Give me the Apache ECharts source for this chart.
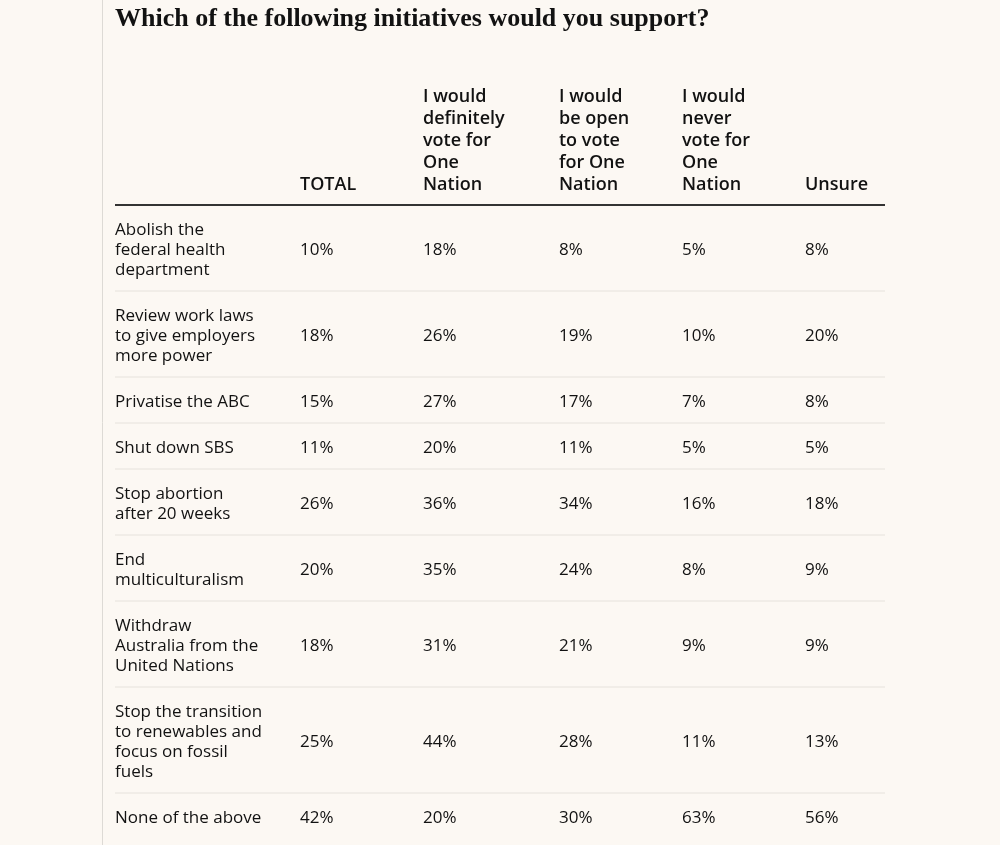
<!DOCTYPE html>
<html>
<head>
<meta charset="utf-8">
<script src="https://cdn.jsdelivr.net/npm/echarts@6/dist/echarts.min.js"></script>
<style>
html, body { margin: 0; padding: 0; background: #fcf8f3; }
#main { width: 1000px; height: 845px; }
</style>
</head>
<body>
<div id="main"></div>
<script>
// table content
var initiatives = [
    'Abolish the\nfederal health\ndepartment',
    'Review work laws\nto give employers\nmore power',
    'Privatise the ABC',
    'Shut down SBS',
    'Stop abortion\nafter 20 weeks',
    'End\nmulticulturalism',
    'Withdraw\nAustralia from the\nUnited Nations',
    'Stop the transition\nto renewables and\nfocus on fossil\nfuels',
    'None of the above'
];
var headers = ['TOTAL', 'I would\ndefinitely\nvote for\nOne\nNation', 'I would\nbe open\nto vote\nfor One\nNation', 'I would\nnever\nvote for\nOne\nNation', 'Unsure'];
var total      = [10, 18, 15, 11, 26, 20, 18, 25, 42];
var definitely = [18, 26, 27, 20, 36, 35, 31, 44, 20];
var openTo     = [8, 19, 17, 11, 34, 24, 21, 28, 30];
var never      = [5, 10, 7, 5, 16, 8, 9, 11, 63];
var unsure     = [8, 20, 8, 5, 18, 9, 9, 13, 56];

var colX = [115, 300, 423, 559, 682, 805];   // left edge of each column
var LINE = 20, PAD = 1.3;                     // row height = PAD + lines (in line units)
var FONT = '17px "Open Sans", sans-serif';
var INK = '#121212';

var rows = [], start = 0;
for (var i = 0; i < initiatives.length; i++) {
    var lines = initiatives[i].split('\n').length;
    var end = start + PAD + lines;
    rows.push([start, end, i]);
    start = end;
}
var totalUnits = start;

var valueCols = [total, definitely, openTo, never, unsure];

function renderRow(params, api) {
    var idx = api.value(2);
    var y0 = api.coord([0, api.value(0)])[1];
    var y1 = api.coord([0, api.value(1)])[1];
    var ym = (y0 + y1) / 2 + 2;
    var kids = [{
        type: 'text',
        style: { text: initiatives[idx], x: api.coord([colX[0], 0])[0], y: ym, verticalAlign: 'middle', font: FONT, lineHeight: LINE, fill: INK }
    }];
    for (var c = 0; c < valueCols.length; c++) {
        kids.push({
            type: 'text',
            style: { text: valueCols[c][idx] + '%', x: api.coord([colX[c + 1], 0])[0], y: ym, verticalAlign: 'middle', font: FONT, fill: INK }
        });
    }
    if (idx < initiatives.length - 1) {
        kids.push({
            type: 'line',
            shape: { x1: api.coord([115, 0])[0], y1: y1, x2: api.coord([885, 0])[0], y2: y1 },
            style: { stroke: '#e6e2dc', lineWidth: 1 }
        });
    }
    return { type: 'group', children: kids };
}

var headerGraphics = [];
for (var h = 0; h < headers.length; h++) {
    headerGraphics.push({
        type: 'text', left: colX[h + 1], bottom: 845 - 196,
        style: { text: headers[h], font: '600 18px "Open Sans", sans-serif', lineHeight: 22, fill: INK }
    });
}

var chart = echarts.init(document.getElementById('main'));
chart.setOption({
    backgroundColor: '#fcf8f3',
    animation: false,
    grid: { left: 0, right: 0, top: 205, bottom: 6 },
    xAxis: { type: 'value', min: 0, max: 1000, show: false },
    yAxis: { type: 'value', min: 0, max: totalUnits, inverse: true, show: false },
    graphic: [
        { type: 'line', shape: { x1: 102.5, y1: 0, x2: 102.5, y2: 845 }, style: { stroke: '#dddad5', lineWidth: 1 } },
        { type: 'text', left: 115, top: 6, style: { text: 'Which of the following initiatives would you support?', font: 'bold 26px "Liberation Serif", serif', fill: INK } },
        { type: 'line', shape: { x1: 115, y1: 205, x2: 885, y2: 205 }, style: { stroke: '#333333', lineWidth: 2 } }
    ].concat(headerGraphics),
    series: [{
        type: 'custom',
        renderItem: renderRow,
        data: rows,
        encode: { y: [0, 1] },
        silent: true
    }]
});
</script>
</body>
</html>
